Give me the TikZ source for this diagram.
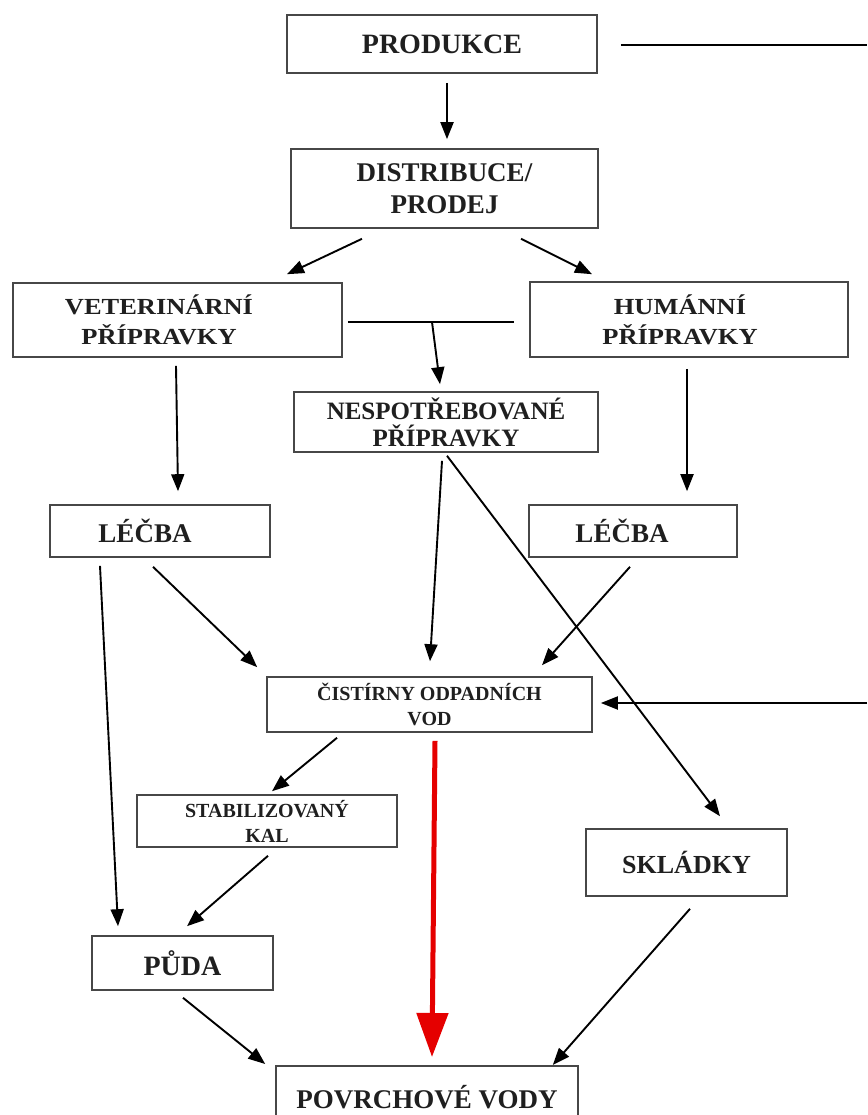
\documentclass[tikz,border=0pt]{standalone}
\usepackage{fontspec}
\setmainfont{Liberation Serif}
\newfontfamily\widefont[FakeStretch=1.15]{Liberation Serif}
\usetikzlibrary{arrows.meta,calc}
\begin{document}
\begin{tikzpicture}[x=1pt,y=-1pt,
  box/.style={draw=black!72, line width=1.6pt, inner sep=0pt},
  lbl/.style={align=center, inner sep=0pt, text=black!88},
  arr/.style={-{Triangle[length=17pt,width=13pt]}, line width=1.9pt},
  plain/.style={line width=1.9pt},
  redarr/.style={-{Triangle[length=44pt,width=31pt]}, line width=5pt, draw=red!90!black}]
\useasboundingbox (0,0) rectangle (867,1115);
\fill[white] (0,0) rectangle (867,1115);
\clip (0,0) rectangle (867,1115);

% boxes
\node[box, minimum width=310pt, minimum height=58pt] (prod) at (442,44) {};
\node[box, minimum width=307pt, minimum height=79pt] (dist) at (444.5,188.5) {};
\node[box, minimum width=329pt, minimum height=74pt] (vet) at (177.5,320) {};
\node[box, minimum width=318pt, minimum height=75pt] (hum) at (689,319.5) {};
\node[box, minimum width=304pt, minimum height=60pt] (nesp) at (446,422) {};
\node[box, minimum width=220pt, minimum height=52pt] (lecL) at (160,531) {};
\node[box, minimum width=208pt, minimum height=52pt] (lecR) at (633,531) {};
\node[box, minimum width=325pt, minimum height=55pt] (cist) at (429.5,704.5) {};
\node[box, minimum width=260pt, minimum height=52pt] (kal) at (267,821) {};
\node[box, minimum width=201pt, minimum height=67pt] (skl) at (686.5,862.5) {};
\node[box, minimum width=181pt, minimum height=54pt] (puda) at (182.5,963) {};
\node[box, minimum width=302pt, minimum height=56pt, anchor=north] (povr) at (427,1065) {};

% labels
\node[lbl, font=\bfseries\fontsize{28}{32}\selectfont] (prodt) at (prod.center) {PRODUKCE};
\node[lbl, font=\bfseries\fontsize{27}{32}\selectfont] (distt) at (dist.center) {DISTRIBUCE/\\PRODEJ};
\node[lbl, font=\widefont\bfseries\fontsize{23}{30}\selectfont] (vett) at ([xshift=-18.5]vet.center) {VETERINÁRNÍ\\PŘÍPRAVKY};
\node[lbl, font=\widefont\bfseries\fontsize{23}{30}\selectfont] (humt) at ([xshift=-9]hum.center) {HUMÁNNÍ\\PŘÍPRAVKY};
\node[lbl, font=\bfseries\fontsize{25}{27}\selectfont] (nespt) at (nesp.center) {NESPOTŘEBOVANÉ\\PŘÍPRAVKY};
\node[lbl, font=\bfseries\fontsize{27}{32}\selectfont] (lecLt) at ([xshift=-15]lecL.center) {LÉČBA};
\node[lbl, font=\bfseries\fontsize{27}{32}\selectfont] (lecRt) at ([xshift=-11]lecR.center) {LÉČBA};
\node[lbl, font=\bfseries\fontsize{20}{25}\selectfont] (cistt) at (cist.center) {ČISTÍRNY ODPADNÍCH\\VOD};
\node[lbl, font=\bfseries\fontsize{20}{25}\selectfont] (kalt) at (kal.center) {STABILIZOVANÝ\\KAL};
\node[lbl, font=\bfseries\fontsize{26}{32}\selectfont] (sklt) at (skl.center) {SKLÁDKY};
\node[lbl, font=\bfseries\fontsize{28}{32}\selectfont] (pudat) at (puda.center) {PŮDA};
\node[lbl, font=\bfseries\fontsize{27}{32}\selectfont] (povrt) at ([yshift=-3]povr.center) {POVRCHOVÉ VODY};

% free ends at the right edge
\coordinate (rtop) at (867,45);
\coordinate (rmid) at (867,703);
\coordinate (j) at (432,322);

% connectors
\draw[arr] ([shift={(5,9)}]prod.south) -- ([shift={(2.5,-9)}]dist.north);
\draw[plain] ([shift={(23,1)}]prod.east) -- (rtop);
\draw[arr] (rmid) -- ([shift={(8,-1.5)}]cist.east);
\draw[arr] ([shift={(-82.5,10)}]dist.south) -- ([shift={(109.5,-8)}]vet.north);
\draw[arr] ([shift={(76.5,10)}]dist.south) -- ([shift={(-97,-7)}]hum.north);
\draw[plain] ([shift={(5,2)}]vet.east) -- ([shift={(-15,2.5)}]hum.west);
\draw[arr] (j) -- ([shift={(-6,-7)}]nesp.north);
\draw[arr] ([shift={(-1.5,8)}]vet.south) -- ([shift={(18,-13)}]lecL.north);
\draw[arr] ([shift={(-2,11)}]hum.south) -- ([shift={(54,-13)}]lecR.north);
\draw[arr] ([shift={(-4,8)}]nesp.south) -- ([shift={(0.5,-15)}]cist.north);
\draw[arr] ([shift={(1,3)}]nesp.south) -- ([shift={(33.5,-12)}]skl.north);
\draw[arr] ([shift={(-7,9)}]lecL.south) -- ([shift={(-9,-9)}]cist.north west);
\draw[arr] ([shift={(-3,9)}]lecR.south) -- ([shift={(112.5,-11)}]cist.north);
\draw[arr] ([shift={(-60,8)}]lecL.south) -- ([shift={(-64.5,-9)}]puda.north);
\draw[arr] ([shift={(-92.5,5)}]cist.south) -- ([shift={(5,-3)}]kal.north);
\draw[redarr] ([shift={(5.5,8)}]cist.south) -- ([shift={(5,-8)}]povr.north);
\draw[arr] ([shift={(1,8)}]kal.south) -- ([shift={(4.5,-9)}]puda.north);
\draw[arr] ([shift={(0.5,7)}]puda.south) -- ([shift={(-10,-1)}]povr.north west);
\draw[arr] ([shift={(3.5,12)}]skl.south) -- ([shift={(-26,0)}]povr.north east);
\end{tikzpicture}
\end{document}
